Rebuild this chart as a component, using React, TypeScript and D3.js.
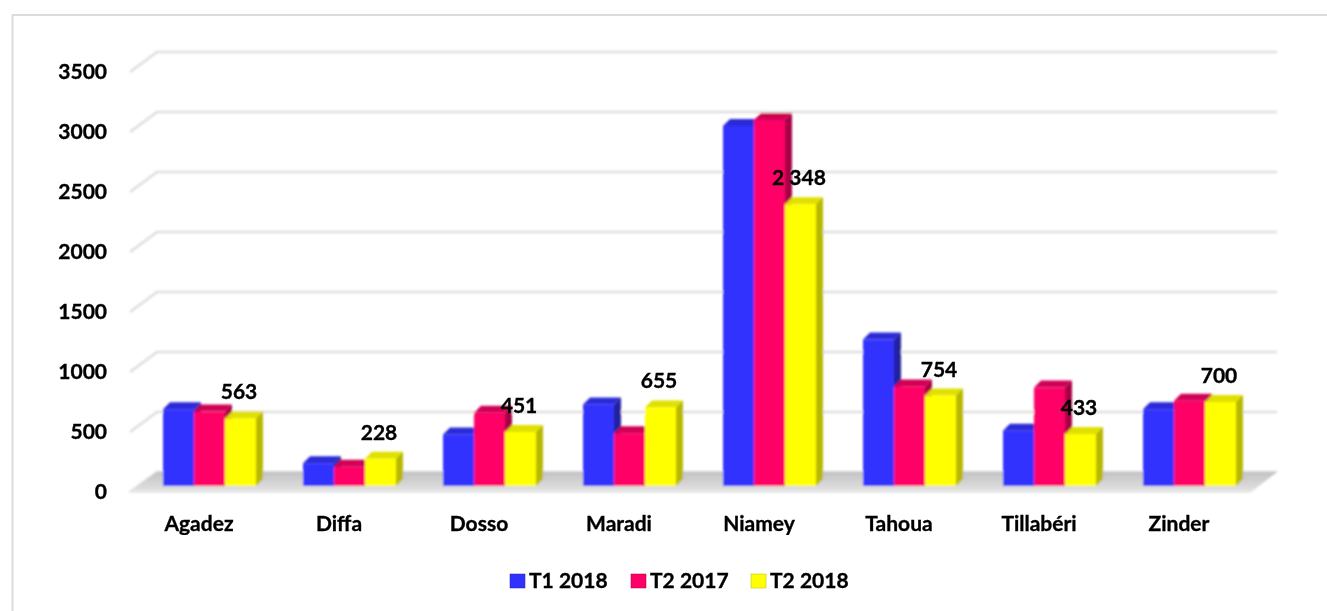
import React from "react";
import * as d3 from "d3";

const categories = ["Agadez", "Diffa", "Dosso", "Maradi", "Niamey", "Tahoua", "Tillabéri", "Zinder"];
const seriesNames = ["T1 2018", "T2 2017", "T2 2018"];
const t12018 = [640, 190, 430, 680, 3000, 1220, 460, 640];
const t22017 = [620, 160, 610, 440, 3050, 830, 820, 710];
const t22018 = [563, 228, 451, 655, 2348, 754, 433, 700];
const labels = ["563", "228", "451", "655", "2 348", "754", "433", "700"];
const ticks = [0, 500, 1000, 1500, 2000, 2500, 3000, 3500];
const series = [t12018, t22017, t22018];
const faces = [
  { front: "#3333ff", top: "#2a2ad8", side: "#24249e" },
  { front: "#ff0066", top: "#d00054", side: "#a80045" },
  { front: "#ffff00", top: "#e0e000", side: "#b8b800" },
];

const W = 1327, H = 611;
const FONT = "Lato, Carlito, sans-serif";
const DX = 27, DY = 20;
const BDX = 7, BDY = 7;

export default function App() {
  const y = d3.scaleLinear().domain([0, 3500]).range([486, 66]);
  const x0 = d3.scaleBand<string>().domain(categories).range([139.5, 1259.5]);
  const x1 = d3.scaleBand<number>().domain([0, 1, 2]).range([23.5, 116.5]);
  const gridY = (v: number) => y(v) - 14;

  return (
    <div style={{ position: "fixed", left: 0, top: 0, width: W, height: H, background: "#fff" }}>
      <svg width={W} height={H} style={{ display: "block" }}>
        <defs>
          <filter id="soft" x="-5%" y="-5%" width="110%" height="110%">
            <feGaussianBlur stdDeviation="0.8" />
          </filter>
          <filter id="softText" x="-5%" y="-5%" width="110%" height="110%">
            <feGaussianBlur stdDeviation="0.35" />
          </filter>
          <linearGradient id="floor" x1="0" x2="0" y1="0" y2="1">
            <stop offset="0" stopColor="#c2c2c2" />
            <stop offset="0.75" stopColor="#dcdcdc" />
            <stop offset="1" stopColor="#ececec" />
          </linearGradient>
        </defs>
        <path d={`M12.5,${H} V15 H${W}`} fill="none" stroke="#dcdcdc" strokeWidth={2} />
        <g filter="url(#soft)">
          {ticks.map((t) => (
            <path
              key={t}
              d={`M130,${gridY(t) + DY} L${130 + DX},${gridY(t)} H1277`}
              fill="none"
              stroke="#dedede"
              strokeWidth={2.5}
            />
          ))}
          <path
            d={`M128,${gridY(0) + DY + 1} L${128 + DX + 2},${gridY(0)} H1277 L1250,${gridY(0) + DY + 1} Z`}
            fill="url(#floor)"
          />
          {categories.map((c, i) =>
            series.map((s, j) => {
              const left = x0(c)! + x1(j)!;
              const right = left + x1.bandwidth();
              const top = y(s[i]);
              const f = faces[j];
              return (
                <g key={c + j}>
                  <path
                    d={`M${left},${top} L${left + BDX},${top - BDY} H${right + BDX} L${right},${top} Z`}
                    fill={f.top}
                  />
                  <path
                    d={`M${right},${top} L${right + BDX},${top - BDY} V${486 - BDY} L${right},486 Z`}
                    fill={f.side}
                  />
                  <rect x={left} y={top} width={right - left} height={486 - top} fill={f.front} />
                </g>
              );
            })
          )}
        </g>
        <g
          fontFamily={FONT}
          fontWeight={700}
          fontSize={21}
          fill="#000"
          stroke="#000"
          strokeWidth={0.35}
          filter="url(#softText)"
        >
          {ticks.map((t) => (
            <text key={t} x={107} y={y(t) + 13} textAnchor="end">
              {t}
            </text>
          ))}
          {categories.map((c) => (
            <text key={c} x={x0(c)! + x1(1)! + x1.bandwidth() / 2 - 10.5} y={530.5} textAnchor="middle">
              {c}
            </text>
          ))}
          {categories.map((c, i) => (
            <text
              key={c}
              x={x0(c)! + x1(2)! + x1.bandwidth() / 2 - 1.5}
              y={y(t22018[i]) - 26 + 7}
              textAnchor="middle"
            >
              {labels[i]}
            </text>
          ))}
          {seriesNames.map((n, i) => (
            <g key={n} transform={`translate(${[510, 631, 751][i]},574)`}>
              <rect x={0} y={0} width={15} height={14} fill={faces[i].front} stroke={faces[i].side} strokeWidth={0.5} />
              <text x={19} y={14}>{n}</text>
            </g>
          ))}
        </g>
      </svg>
    </div>
  );
}
